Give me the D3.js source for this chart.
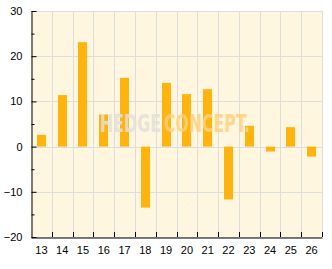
<!DOCTYPE html>
<html><head><meta charset="utf-8">
<script src="https://cdn.jsdelivr.net/npm/d3@7"></script>
<style>body{margin:0;background:#fff}svg{display:block}</style>
</head><body>
<script>
const categories = ["13","14","15","16","17","18","19","20","21","22","23","24","25","26"];
const values = [2.6, 11.4, 23.1, 7.1, 15.2, -13.5, 14.1, 11.6, 12.7, -11.7, 4.6, -1.1, 4.3, -2.2];
const yMajorTicks = [-20, -10, 0, 10, 20, 30];
const yMinorTicks = [-15, -5, 5, 15, 25];

const W = 332, H = 269;
const m = {left: 31, right: 10, top: 11, bottom: 32};
const svg = d3.select("body").append("svg").attr("width", W).attr("height", H);

const x = d3.scaleBand().domain(categories).range([m.left, W - m.right]).paddingInner(0).paddingOuter(0);
const y = d3.scaleLinear().domain([-20, 30]).range([H - m.bottom, m.top]);

svg.append("rect").attr("x", m.left).attr("y", m.top)
  .attr("width", W - m.right - m.left).attr("height", H - m.bottom - m.top)
  .attr("fill", "#fff6df");

const grid = svg.append("g").attr("stroke", "#dddddd").attr("stroke-width", 1);
yMajorTicks.forEach(t => {
  grid.append("line").attr("x1", m.left).attr("x2", W - m.right)
    .attr("y1", Math.round(y(t)) + 0.5).attr("y2", Math.round(y(t)) + 0.5);
});
categories.forEach((c, i) => {
  const xx = Math.round(x(c) + x.bandwidth()) + 0.5;
  grid.append("line").attr("x1", xx).attr("x2", xx).attr("y1", m.top).attr("y2", H - m.bottom);
});

const bw = x.bandwidth() * 0.43;
svg.append("g").selectAll("rect").data(values).join("rect")
  .attr("x", (d, i) => Math.round(x(categories[i]) + x.bandwidth() / 2 - bw / 2))
  .attr("width", Math.round(bw))
  .attr("y", d => y(Math.max(0, d)))
  .attr("height", d => Math.abs(y(d) - y(0)))
  .attr("fill", "#ffb30f");

// watermark
const wmFont = "DejaVu Sans Condensed, DejaVu Sans";
function wmText(str, x0, targetW, fill) {
  const t = svg.append("text").attr("x", 0).attr("y", 0).text(str)
    .attr("font-family", wmFont).attr("font-weight", "bold").attr("font-size", 25)
    .attr("fill", fill).attr("fill-opacity", 0.85);
  const w = t.node().getComputedTextLength();
  t.attr("transform", `translate(${x0},132) scale(${targetW / w},1)`);
}
wmText("HEDGE", 100, 61, "#e2e0da");
wmText("CONCEPT.", 164, 86, "#ffd27a");

// axes
const yAxis = d3.axisLeft(y).tickValues(yMajorTicks).tickSizeInner(-5).tickSizeOuter(0).tickPadding(9);
const gy = svg.append("g").attr("transform", `translate(${m.left + 0.5},0)`).call(yAxis);
gy.selectAll(".tick text").attr("font-family", "Liberation Sans, Arial, sans-serif").attr("font-size", 11).attr("fill", "#000");
gy.select(".domain").attr("stroke", "#000");
gy.selectAll(".tick line").attr("stroke", "#000");
svg.append("g").attr("transform", `translate(${m.left + 0.5},0)`)
  .call(d3.axisLeft(y).tickValues(yMinorTicks).tickSize(-3).tickFormat(""))
  .call(g => g.select(".domain").remove())
  .selectAll("line").attr("stroke", "#000");

const xAxis = d3.axisBottom(x).tickSize(0).tickSizeOuter(0).tickPadding(9);
const gx = svg.append("g").attr("transform", `translate(0,${H - m.bottom + 0.5})`).call(xAxis);
gx.select(".domain").attr("stroke", "#000");
gx.selectAll(".tick text").attr("font-family", "Liberation Sans, Arial, sans-serif").attr("font-size", 11).attr("fill", "#000");
const xt = svg.append("g").attr("stroke", "#000");
categories.forEach(c => {
  const xx = Math.round(x(c) + x.bandwidth()) + 0.5;
  xt.append("line").attr("x1", xx).attr("x2", xx).attr("y1", H - m.bottom).attr("y2", H - m.bottom - 5);
});
</script>
</body></html>
